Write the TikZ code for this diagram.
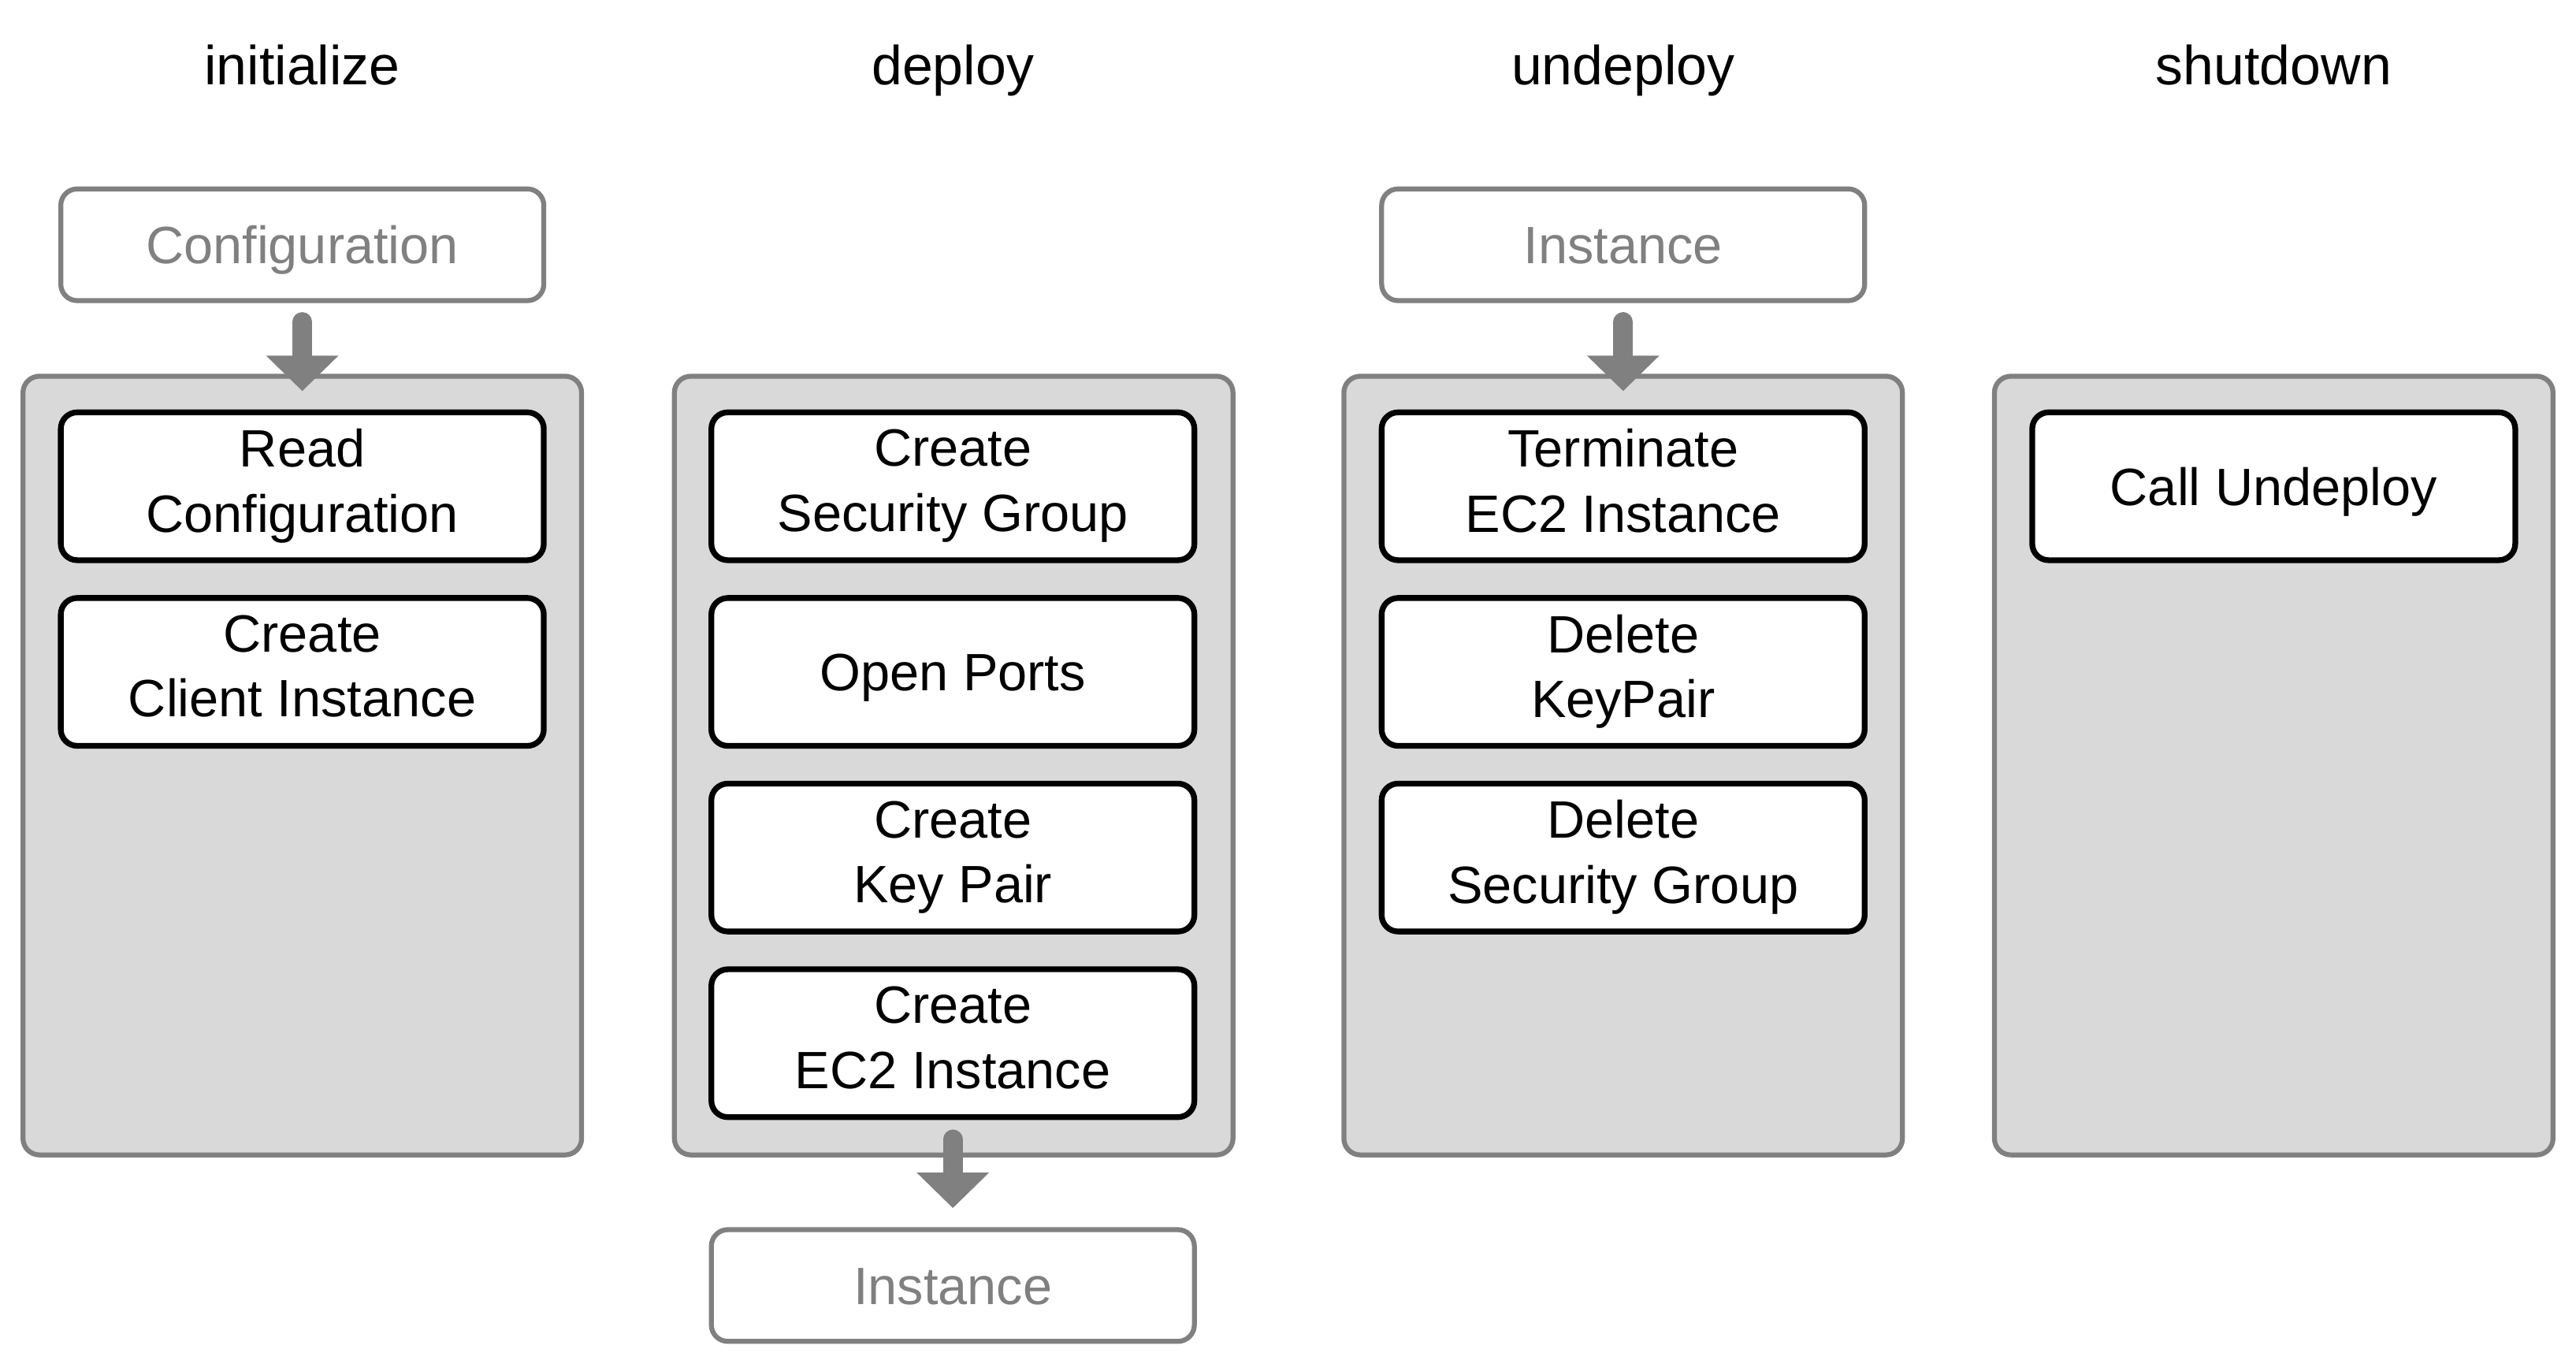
\documentclass[tikz,border=0pt]{standalone}
\usepackage{fontspec}
\setmainfont{Liberation Sans}
\usetikzlibrary{arrows.meta}
\definecolor{gline}{HTML}{808080}
\definecolor{gfill}{HTML}{D9D9D9}
\begin{document}
\begin{tikzpicture}[x=1pt,y=-1pt,
  boxtext/.style={align=center, font=\fontsize{32}{39.5}\selectfont,
    execute at begin node={\rule{0pt}{30pt}},
    execute at end node={\rule[-7pt]{0pt}{7pt}}},
  panel/.style={draw=gline, fill=gfill, line width=3pt, rounded corners=10pt, minimum width=340pt, minimum height=474pt, inner sep=0pt},
  stepbox/.style={boxtext, draw=black, fill=white, line width=3.5pt, rounded corners=10pt, minimum width=294pt, minimum height=90pt, inner sep=0pt},
  iobox/.style={boxtext, draw=gline, fill=white, line width=3pt, rounded corners=10pt, minimum width=294pt, minimum height=68pt, inner sep=0pt, text=gline},
  title/.style={anchor=base, font=\fontsize{33.5}{40}\selectfont},
  flow/.style={draw=gline, line width=12pt, line cap=round, -{Triangle[width=44pt,length=21.5pt,line width=0pt]}}
]
\path[use as bounding box] (0,0) rectangle (1568,830);

% titles
\node[title] (t1) at (184,51.5) {initialize};
\node[title] (t2) at (580,51.5) {deploy};
\node[title] (t3) at (988,51.5) {undeploy};
\node[title] (t4) at (1384,51.5) {shutdown};

% panels
\node[panel] (pan1) at (184,466) {};
\node[panel] (pan2) at (580.5,466) {};
\node[panel] (pan3) at (988,466) {};
\node[panel] (pan4) at (1384,466) {};

% inputs / outputs
\node[iobox] (conf) at (184,149) {Configuration};
\node[iobox] (inst) at (988,149) {Instance};
\node[iobox] (out) at (580,782.5) {Instance};

% steps
\node[stepbox] (s11) at (184,296) {Read\\Configuration};
\node[stepbox] (s12) at (184,409) {Create\\Client Instance};

\node[stepbox] (s21) at (580,296) {Create\\Security Group};
\node[stepbox] (s22) at (580,409) {Open Ports};
\node[stepbox] (s23) at (580,522) {Create\\Key Pair};
\node[stepbox] (s24) at (580,635) {Create\\EC2 Instance};

\node[stepbox] (s31) at (988,296) {Terminate\\EC2 Instance};
\node[stepbox] (s32) at (988,409) {Delete\\KeyPair};
\node[stepbox] (s33) at (988,522) {Delete\\Security Group};

\node[stepbox] (s41) at (1384,296) {Call Undeploy};

% arrows
\draw[flow] ([yshift=-11.5pt]conf.south) -- ([yshift=-10.5pt]pan1.north);
\draw[flow] ([yshift=-11.5pt]inst.south) -- ([yshift=-10.5pt]pan3.north);
\draw[flow] ([yshift=-11.8pt]s24.south) -- ([yshift=11.7pt]out.north);
\end{tikzpicture}
\end{document}
